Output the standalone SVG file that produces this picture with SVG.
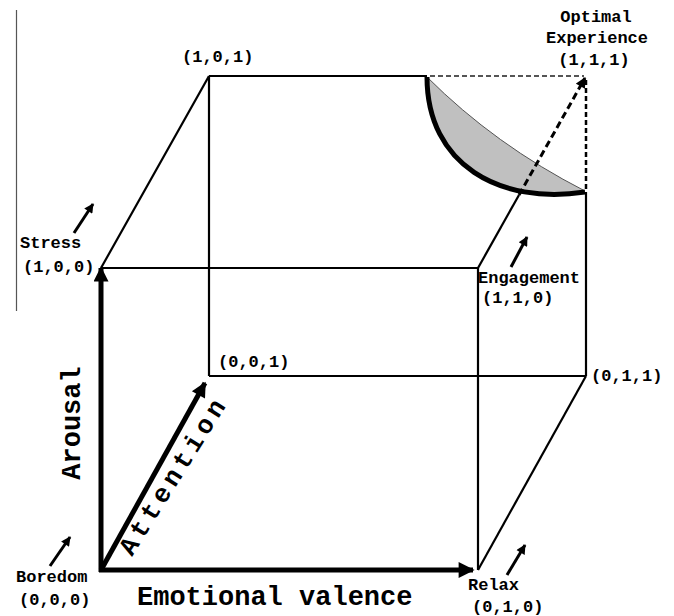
<svg xmlns="http://www.w3.org/2000/svg" width="674" height="616" viewBox="0 0 674 616">
<style>
text{font-family:"Liberation Mono","Courier New",monospace;font-weight:bold;fill:#000}
.lbl{font-size:17px}
.axis{font-size:27px}
.edge{stroke:#000;stroke-width:2.2;fill:none}
.thick{stroke:#000;stroke-width:5;fill:none}
.small{stroke:#000;stroke-width:3;fill:none}
</style>
<defs>
<marker id="ah" viewBox="0 0 10 10" refX="9" refY="5" markerWidth="5.5" markerHeight="3" orient="auto" markerUnits="strokeWidth"><path d="M0,0 L10,5 L0,10 Z" fill="#000"/></marker>
<marker id="ahv" viewBox="0 0 10 10" refX="9" refY="5" markerWidth="4.5" markerHeight="3.2" orient="auto" markerUnits="strokeWidth"><path d="M0,0 L10,5 L0,10 Z" fill="#000"/></marker>
<marker id="ahs" viewBox="0 0 10 10" refX="9" refY="5" markerWidth="4" markerHeight="3.2" orient="auto" markerUnits="strokeWidth"><path d="M0,0 L10,5 L0,10 Z" fill="#000"/></marker>
<marker id="ahd" viewBox="0 0 10 10" refX="9" refY="5" markerWidth="4" markerHeight="3.5" orient="auto" markerUnits="strokeWidth"><path d="M0,0 L10,5 L0,10 Z" fill="#000"/></marker>
</defs>
<rect width="674" height="616" fill="#fff"/>
<line x1="16.5" y1="10" x2="16.5" y2="311" stroke="#555" stroke-width="1.2"/>
<g id="flow-region">
<path d="M427,77 C427,165 500,205 585,192 L585,191 Q495,145 427,77 Z" fill="#c0c0c0" stroke="none"/>
<path d="M427,77 Q495,145 585,191" fill="none" stroke="#555" stroke-width="1"/>
<path d="M427,77 C427,165 500,205 585,192" fill="none" stroke="#000" stroke-width="5"/>
</g>
<g id="connectors">
<line class="edge" x1="101" y1="268" x2="478" y2="268"/>
<line class="edge" x1="478" y1="268" x2="478" y2="570"/>
<line class="edge" x1="209" y1="76" x2="427" y2="76"/>
<line class="edge" x1="209" y1="76" x2="209" y2="376"/>
<line class="edge" x1="209" y1="376" x2="586" y2="376"/>
<line class="edge" x1="586" y1="192" x2="586" y2="376"/>
<line class="edge" x1="101" y1="268" x2="209" y2="76"/>
<line class="edge" x1="478" y1="570" x2="586" y2="376"/>
<line class="edge" x1="478" y1="268" x2="519" y2="195"/>
<line x1="430" y1="76" x2="584" y2="76" stroke="#555" stroke-width="2" stroke-dasharray="5,3"/>
<line x1="586" y1="80" x2="586" y2="190" stroke="#000" stroke-width="2.5" stroke-dasharray="5,3"/>
<line x1="519" y1="195" x2="585" y2="78" stroke="#000" stroke-width="3" stroke-dasharray="7,4" marker-end="url(#ahd)"/>
<line class="thick" x1="101" y1="572" x2="101" y2="268" marker-end="url(#ah)"/>
<line class="thick" x1="99" y1="570" x2="473" y2="570" marker-end="url(#ahv)"/>
<line class="thick" x1="101" y1="570" x2="205" y2="383" marker-end="url(#ah)"/>
<line class="small" x1="74" y1="233" x2="93" y2="204" marker-end="url(#ahs)"/>
<line class="small" x1="511" y1="267" x2="527" y2="237" marker-end="url(#ahs)"/>
<line class="small" x1="50" y1="566" x2="70" y2="537" marker-end="url(#ahs)"/>
<line class="small" x1="507" y1="575" x2="525" y2="545" marker-end="url(#ahs)"/>
</g>
<g id="node-101"><text class="lbl" x="182" y="62">(1,0,1)</text></g>
<g id="node-111"><text class="lbl" x="596" y="22" text-anchor="middle">Optimal</text><text class="lbl" x="597" y="43" text-anchor="middle">Experience</text><text class="lbl" x="594" y="65" text-anchor="middle">(1,1,1)</text></g>
<g id="node-100"><text class="lbl" x="20" y="248">Stress</text><text class="lbl" x="23" y="272">(1,0,0)</text></g>
<g id="node-110"><text class="lbl" x="478" y="283">Engagement</text><text class="lbl" x="482" y="303">(1,1,0)</text></g>
<g id="node-001"><text class="lbl" x="218" y="367">(0,0,1)</text></g>
<g id="node-011"><text class="lbl" x="591" y="381">(0,1,1)</text></g>
<g id="node-000"><text class="lbl" x="16" y="582">Boredom</text><text class="lbl" x="19" y="605">(0,0,0)</text></g>
<g id="node-010"><text class="lbl" x="468" y="590">Relax</text><text class="lbl" x="472" y="612">(0,1,0)</text></g>
<g id="axis-labels">
<text class="axis" transform="translate(80,423) rotate(-90)" text-anchor="middle">Arousal</text>
<text class="axis" x="137" y="605">Emotional valence</text>
<text class="axis" transform="translate(132,557) rotate(-58)" style="font-size:26px" textLength="178" lengthAdjust="spacing">Attention</text>
</g>
</svg>
